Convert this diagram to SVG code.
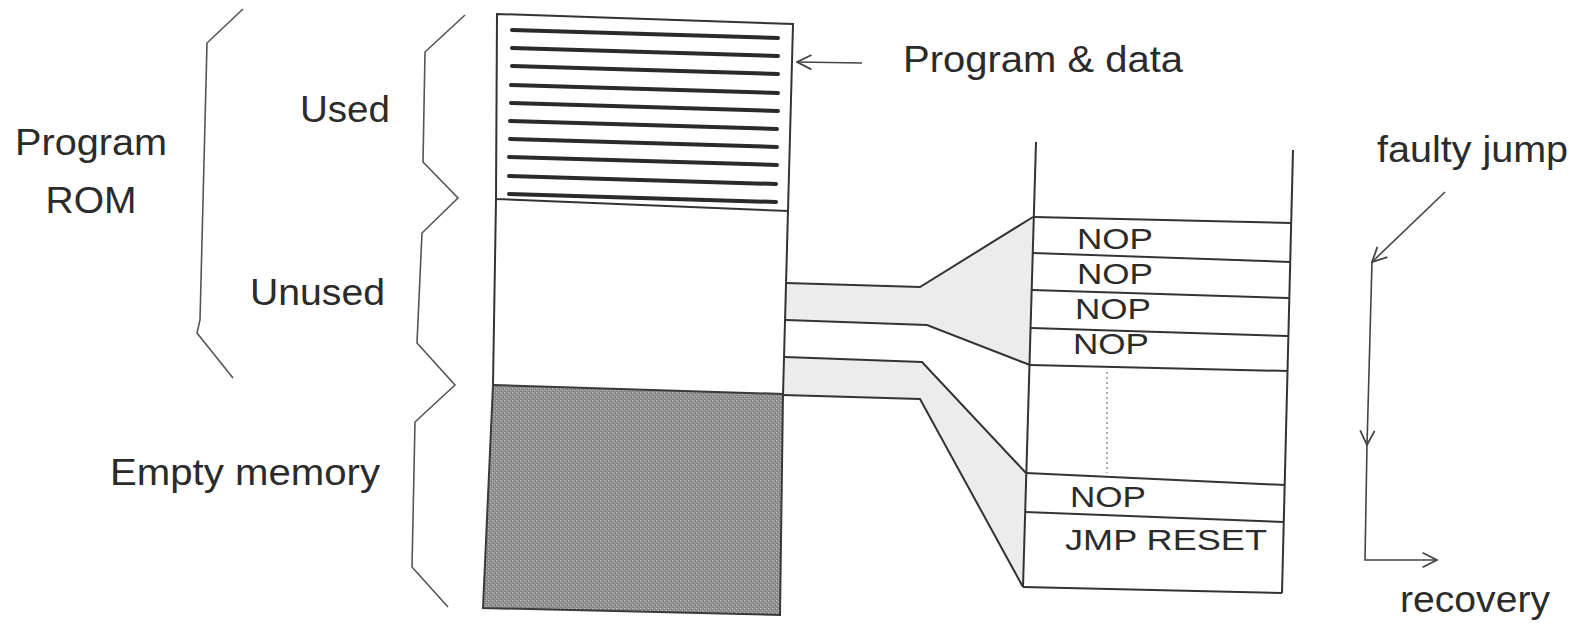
<svg xmlns="http://www.w3.org/2000/svg" width="1587" height="627" viewBox="0 0 1587 627">
<defs>
<style>
.t{font-family:"Liberation Sans",Arial,sans-serif;font-size:36px;fill:#2b2b2b}
.s{font-size:29px}
.ln{fill:none;stroke:#333;stroke-width:2;stroke-linejoin:miter}
.br{fill:none;stroke:#555;stroke-width:1.6}
.hatch{stroke:#2a2a2a;stroke-width:4;stroke-linecap:round}
.funnel{fill:#ececec;stroke:none}
.arr{fill:none;stroke:#444;stroke-width:1.6}
.dot{fill:none;stroke:#777;stroke-width:1.2;stroke-dasharray:2 3}
</style>
<pattern id="stip" width="4" height="4" patternUnits="userSpaceOnUse">
<rect width="4" height="4" fill="#929292"/>
<rect x="0" y="0" width="1" height="1" fill="#c8c8c8"/>
<rect x="2" y="2" width="1" height="1" fill="#c0c0c0"/>
<rect x="1" y="3" width="1" height="1" fill="#707070"/>
<rect x="3" y="1" width="1" height="1" fill="#707070"/>
</pattern>
<marker id="open" viewBox="0 0 20 20" refX="19" refY="10" markerWidth="18" markerHeight="18" markerUnits="userSpaceOnUse" orient="auto">
<path d="M3,2 L19,10 L3,18" fill="none" stroke="#444" stroke-width="2"/>
</marker>
</defs>
<rect width="1587" height="627" fill="#fff"/>

<g id="brace-rom">
<path class="br" d="M243,9 L207,43 L200,320 L197,333 L233,378"/>
<text class="t" x="91" y="155" text-anchor="middle" textLength="152" lengthAdjust="spacingAndGlyphs">Program</text>
<text class="t" x="91" y="213" text-anchor="middle" textLength="91" lengthAdjust="spacingAndGlyphs">ROM</text>
</g>

<g id="brace-usage">
<path class="br" d="M465,15 L425,52 L423,162 L458,198 L422,233 L417,343 L455,385 L415,422 L412,567 L448,607"/>
<text class="t" x="300" y="122" textLength="90" lengthAdjust="spacingAndGlyphs">Used</text>
<text class="t" x="250" y="305" textLength="135" lengthAdjust="spacingAndGlyphs">Unused</text>
<text class="t" x="110" y="485" textLength="270" lengthAdjust="spacingAndGlyphs">Empty memory</text>
</g>

<g id="connectors">
<polygon class="funnel" points="786,283 920,287 1033,217 1030,365 927,325 786,320"/>
<polygon class="funnel" points="785,357 922,362 1026,473 1023,587 920,399 783,395"/>
<path class="ln" d="M786,283 L920,287 L1033,217"/>
<path class="ln" d="M786,320 L927,325 L1030,365"/>
<path class="ln" d="M785,357 L922,362 L1026,473"/>
<path class="ln" d="M783,395 L920,399 L1023,587"/>
<path class="arr" d="M862,63 L797,62" marker-end="url(#open)"/>
<path class="arr" d="M1445,192 L1372,262" marker-end="url(#open)"/>
<path class="arr" d="M1372,262 L1367,445" marker-end="url(#open)"/>
<path class="arr" d="M1367,445 L1365,560 L1437,560" marker-end="url(#open)"/>
</g>

<g id="memory-used">
<polygon points="497,14 793,24 788,211 496,199" fill="#fff" stroke="none"/>
<line class="hatch" x1="512" y1="30" x2="778" y2="38"/>
<line class="hatch" x1="512" y1="48" x2="778" y2="56"/>
<line class="hatch" x1="512" y1="66" x2="778" y2="74"/>
<line class="hatch" x1="511" y1="85" x2="778" y2="93"/>
<line class="hatch" x1="511" y1="103" x2="778" y2="111"/>
<line class="hatch" x1="510" y1="121" x2="777" y2="129"/>
<line class="hatch" x1="510" y1="139" x2="777" y2="147"/>
<line class="hatch" x1="509" y1="157" x2="777" y2="165"/>
<line class="hatch" x1="509" y1="176" x2="776" y2="184"/>
<line class="hatch" x1="509" y1="194" x2="776" y2="202"/>
<path class="ln" d="M496,199 L497,14 L793,24 L788,211 Z"/>
<text class="t" x="903" y="72" textLength="280" lengthAdjust="spacingAndGlyphs">Program &amp; data</text>
</g>

<g id="memory-unused">
<path class="ln" d="M496,199 L493,385"/>
<path class="ln" d="M788,211 L783,395"/>
</g>

<g id="memory-empty">
<polygon points="493,385 783,394 780,615 483,608" fill="url(#stip)" stroke="#3a3a3a" stroke-width="2"/>
</g>

<g id="nop-stack">
<path class="ln" d="M1036,142 L1023,587"/>
<path class="ln" d="M1293,150 L1282,593"/>
<path class="ln" d="M1034,217 L1291,223"/>
<path class="ln" d="M1033,253 L1290,262"/>
<path class="ln" d="M1032,290 L1289,298"/>
<path class="ln" d="M1031,328 L1288,336"/>
<path class="ln" d="M1030,365 L1288,371"/>
<path class="ln" d="M1026,473 L1285,485"/>
<path class="ln" d="M1025,512 L1284,522"/>
<path class="ln" d="M1023,587 L1282,593"/>
<line class="dot" x1="1107" y1="372" x2="1107" y2="473"/>
<text class="t s" x="1077" y="249" textLength="76" lengthAdjust="spacingAndGlyphs">NOP</text>
<text class="t s" x="1077" y="284" textLength="76" lengthAdjust="spacingAndGlyphs">NOP</text>
<text class="t s" x="1075" y="319" textLength="76" lengthAdjust="spacingAndGlyphs">NOP</text>
<text class="t s" x="1073" y="354" textLength="76" lengthAdjust="spacingAndGlyphs">NOP</text>
<text class="t s" x="1070" y="507" textLength="76" lengthAdjust="spacingAndGlyphs">NOP</text>
<text class="t s" x="1065" y="550" textLength="202" lengthAdjust="spacingAndGlyphs">JMP RESET</text>
</g>

<g id="labels-right">
<text class="t" x="1377" y="162" textLength="191" lengthAdjust="spacingAndGlyphs">faulty jump</text>
<text class="t" x="1400" y="612" textLength="150" lengthAdjust="spacingAndGlyphs">recovery</text>
</g>
</svg>
